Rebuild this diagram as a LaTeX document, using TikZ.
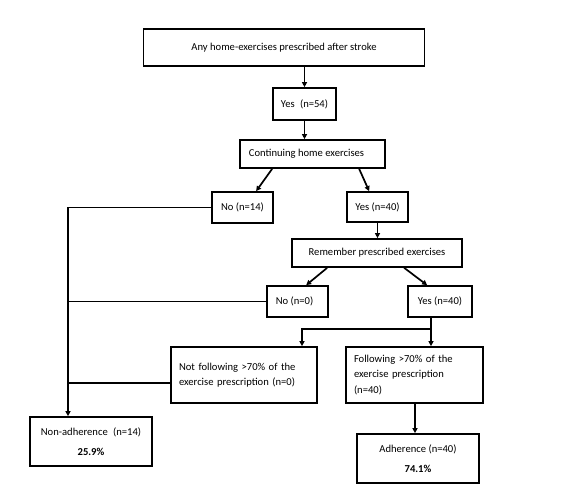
\documentclass[tikz,border=0pt]{standalone}
\usepackage{fontspec}
\setmainfont{Carlito}
\usetikzlibrary{arrows.meta,calc}
\begin{document}
\begin{tikzpicture}[x=1pt,y=-1pt,
  box/.style={draw=black,line width=1.7pt,inner sep=0pt,font=\fontsize{10.6}{15.5}\selectfont,align=center},
  ln/.style={line width=1.7pt},
  arr/.style={ln,-{Triangle[length=5pt,width=5pt]}}]
\useasboundingbox[fill=white] (0,0) rectangle (576,502);
\node[box,minimum width=281pt,minimum height=37pt] (any) at (284,47.5) {Any home-exercises prescribed after stroke};
\node[box,minimum width=63pt,minimum height=32pt] (yes54) at (304.5,104) {Yes\enspace(n=54)};
\node[box,minimum width=145pt,minimum height=28pt] (cont) at (312.5,154) {Continuing home exercises\hspace{12pt}};
\node[box,minimum width=61pt,minimum height=31pt] (no14) at (242.5,207.5) {No (n=14)};
\node[box,minimum width=61pt,minimum height=30pt] (yes40) at (377.5,207) {Yes (n=40)};
\node[box,minimum width=170pt,minimum height=28pt] (rem) at (377,253) {Remember prescribed exercises};
\node[box,minimum width=61pt,minimum height=31pt] (no0) at (297.5,301.5) {No (n=0)\hspace{6pt}};
\node[box,minimum width=64pt,minimum height=31pt] (yes40b) at (440,301.5) {Yes (n=40)};
\node[box,minimum width=146pt,minimum height=56pt,text width=130pt,align=left] (notf) at (244,375) {Not following >70\% of the\\exercise prescription (n=0)};
\node[box,minimum width=137pt,minimum height=56pt,text width=121pt,align=left] (fol) at (414.5,375) {Following >70\% of the\\exercise prescription\\(n=40)};
\node[box,minimum width=122pt,minimum height=49pt] (nonadh) at (91,441.5) {Non-adherence\enspace(n=14)\\[4pt]\textbf{25.9\%}};
\node[box,minimum width=122pt,minimum height=49pt] (adh) at (418,458.5) {Adherence (n=40)\\[4pt]\textbf{74.1\%}};
\coordinate (lx) at (68,0);
\coordinate (sp) at (431,329);
\coordinate (nfx) at (302,0);
\coordinate (adx) at (415,0);
\draw[arr] (any.south -| yes54) -- (yes54);
\draw[arr] (yes54) -- (cont.north -| yes54);
\draw[arr] ($(cont.south west)+(33,0)$) -- ($(no14.north west)+(45,0)$);
\draw[arr] ($(cont.south west)+(120,0)$) -- ($(yes40.north west)+(23,0)$);
\draw[arr] (yes40) -- (rem.north -| yes40);
\draw[arr] ($(rem.south west)+(36,0)$) -- ($(no0.north west)+(40,0)$);
\draw[arr] ($(rem.south west)+(113,0)$) -- ($(yes40b.north west)+(20,0)$);
\draw[ln] (yes40b.south -| sp) -- (sp);
\draw[arr] (sp) -- (sp |- fol.north);
\draw[arr] (sp) -- (nfx |- sp) -- (nfx |- notf.north);
\draw[arr] (adx |- fol.south) -- (adx |- adh.north);
\draw[arr] (no14.west) -- (no14.west -| lx) -- (lx |- nonadh.north);
\draw[ln] (no0.west) -- (no0.west -| lx);
\coordinate (nfw) at ($(notf.west)+(0,8)$);
\draw[ln] (nfw) -- (nfw -| lx);
\end{tikzpicture}
\end{document}
